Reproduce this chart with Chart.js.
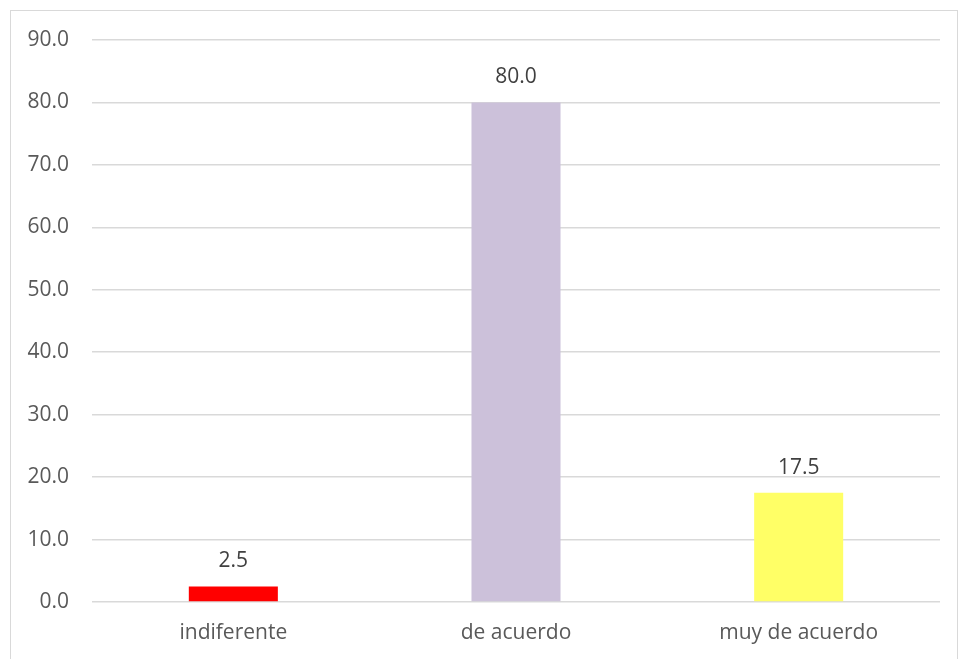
<!DOCTYPE html>
<html>
<head>
<meta charset="utf-8">
<script src="https://cdn.jsdelivr.net/npm/chart.js@4"></script>
<style>
  body { margin: 0; background: #fff; }
  #wrap { position: relative; width: 958px; height: 659px; overflow: hidden; }
  #frame { position: absolute; left: 10px; top: 10px; width: 946px; height: 660px; border: 1px solid #d9d9d9; }
  canvas { position: absolute; left: 0; top: 0; }
</style>
</head>
<body>
<div id="wrap">
  <div id="frame"></div>
  <canvas id="myChart" width="958" height="659"></canvas>
</div>
<script>
const categories = ['indiferente', 'de acuerdo', 'muy de acuerdo'];
const values = [2.5, 80.0, 17.5];
const barColors = ['#ff0000', '#ccc1da', '#ffff66'];

// value labels above each bar
const valueLabels = {
    id: 'valueLabels',
    afterDatasetsDraw(chart) {
        const ctx = chart.ctx;
        const meta = chart.getDatasetMeta(0);
        ctx.save();
        ctx.font = '21px "Open Sans"';
        ctx.fillStyle = '#404040';
        ctx.textAlign = 'center';
        ctx.textBaseline = 'middle';
        meta.data.forEach((bar, i) => {
            ctx.fillText(values[i].toFixed(1), bar.x, bar.y - 25);
        });
        ctx.restore();
    }
};

const ctx = document.getElementById('myChart').getContext('2d');
new Chart(ctx, {
    type: 'bar',
    data: {
        labels: categories,
        datasets: [{
            data: values,
            backgroundColor: barColors,
            barPercentage: 0.315,
            categoryPercentage: 1.0
        }]
    },
    options: {
        responsive: false,
        animation: false,
        layout: { padding: { top: 40, right: 18, bottom: 0, left: 0 } },
        plugins: {
            legend: { display: false },
            tooltip: { enabled: false }
        },
        scales: {
            x: {
                grid: { display: false, drawTicks: false },
                border: { display: false },
                ticks: { color: '#595959', font: { family: 'Open Sans', size: 21 }, padding: 18 },
                afterFit(scale) { scale.height = 57; }
            },
            y: {
                min: 0,
                max: 90,
                grid: { color: '#d9d9d9', lineWidth: 1.5, drawTicks: false },
                border: { display: false },
                ticks: {
                    stepSize: 10,
                    color: '#595959',
                    font: { family: 'Open Sans', size: 21 },
                    padding: 23,
                    callback: v => v.toFixed(1)
                },
                afterFit(scale) { scale.width = 92; }
            }
        }
    },
    plugins: [valueLabels]
});
</script>
</body>
</html>
